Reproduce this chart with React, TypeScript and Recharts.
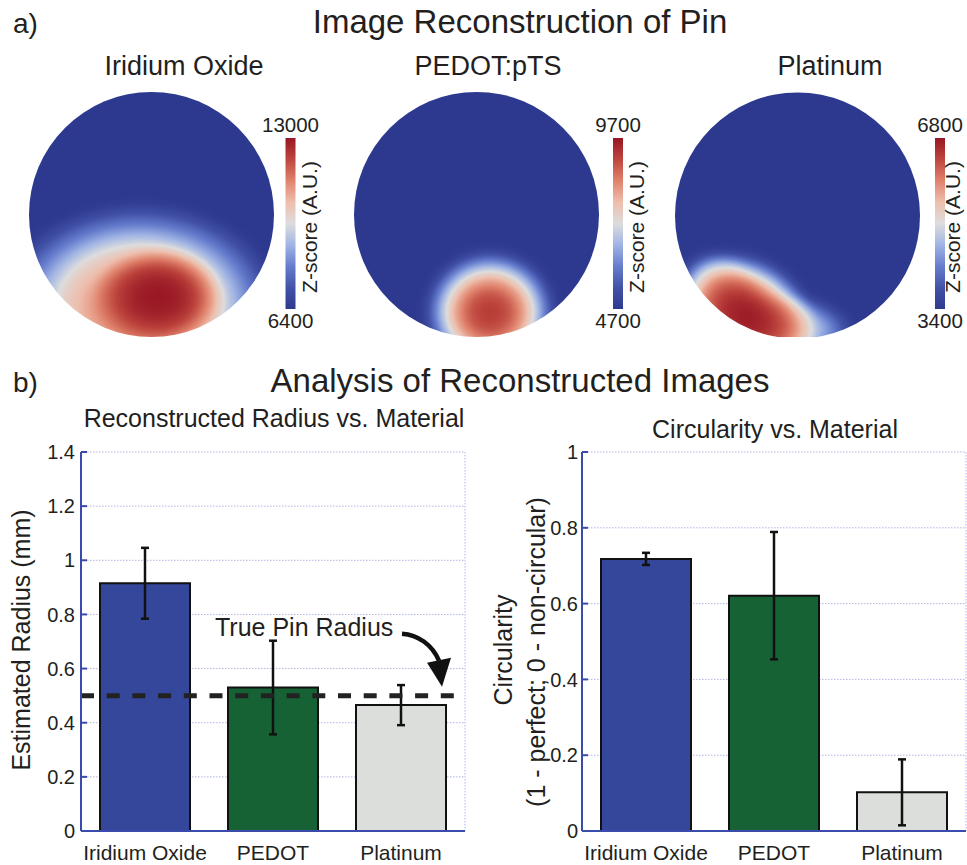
import React from "react";
import {
  BarChart, Bar, Cell, XAxis, YAxis, CartesianGrid, ErrorBar, ReferenceLine,
  ScatterChart, Scatter,
} from "recharts";

// ---- panel b data ----
const MATERIALS = ["Iridium Oxide", "PEDOT", "Platinum"];
const BAR_COLORS = ["#34479b", "#166234", "#dcdedc"];
const RADIUS = [0.915, 0.53, 0.465];
const RADIUS_ERR = [0.131, 0.173, 0.074];
const CIRC = [0.718, 0.621, 0.102];
const CIRC_ERR = [0.016, 0.168, 0.087];
const RADIUS_TICKS = [0, 0.2, 0.4, 0.6, 0.8, 1, 1.2, 1.4];
const CIRC_TICKS = [0, 0.2, 0.4, 0.6, 0.8, 1];
const BOUNDARY_TICKS = [0, 1, 2, 3];
const TRUE_RADIUS = 0.5;

// ---- panel a data ----
const PANEL_TITLES = ["Iridium Oxide", "PEDOT:pTS", "Platinum"];
const Z_MAX = [13000, 9700, 6800];
const Z_MIN = [6400, 4700, 3400];
// hot spots in disk units (u right, v up, radius 1), level = normalised z-score
const IROX_BLOBS = [
  { u: -0.1, v: -0.75, rx: 1.15, ry: 0.85, rot: 0, level: 0.78 },
  { u: 0.06, v: -0.67, rx: 0.54, ry: 0.42, rot: 0, level: 1 },
];
const PEDOT_BLOBS = [
  { u: 0.11, v: -0.8, rx: 0.55, ry: 0.52, rot: 0, level: 0.92 },
];
const PT_BLOBS = [
  { u: -0.63, v: -0.63, rx: 0.38, ry: 0.32, rot: 40, level: 0.35 },
  { u: -0.02, v: -0.92, rx: 0.5, ry: 0.28, rot: 10, level: 0.45 },
  { u: -0.42, v: -0.84, rx: 0.64, ry: 0.5, rot: 35, level: 1 },
];

// blue - white - red colormap
const CMAP_R = [46, 66, 102, 160, 221, 238, 224, 190, 152];
const CMAP_G = [58, 82, 125, 180, 221, 190, 130, 70, 22];
const CMAP_B = [143, 168, 205, 228, 221, 172, 108, 62, 36];

const INK = "#231f20";
const FRAME = "#3b4bab";
const GRID = "#b0b5e4";
const FONT = '"Liberation Sans", Arial, Helvetica, sans-serif';
const HEAT = 245;
const BG = 1.6;

const table = (arr: number[]) => arr.map((c) => (c / 255).toFixed(3)).join(" ");
const cmapColor = (i: number) => `rgb(${CMAP_R[i]},${CMAP_G[i]},${CMAP_B[i]})`;

const BlobShape = (p: any) => {
  const { cx, cy, payload } = p;
  const k = HEAT / 2;
  if (payload.bg) {
    return <rect x={cx - payload.rx * k} y={cy - payload.ry * k} width={2 * payload.rx * k} height={2 * payload.ry * k} fill="#000" />;
  }
  return (
    <ellipse cx={cx} cy={cy} rx={payload.rx * k} ry={payload.ry * k}
      fill="url(#blobGrad)" opacity={payload.level}
      transform={`rotate(${payload.rot} ${cx} ${cy})`} />
  );
};

function HeatPanel({ blobs, left }: { blobs: any[]; left: number }) {
  const data = [{ u: 0, v: 0, rx: BG, ry: BG, rot: 0, level: 0, bg: true }, ...blobs];
  return (
    <div style={{ position: "absolute", left, top: 92 }}>
      <ScatterChart width={HEAT} height={HEAT} margin={{ top: 0, right: 0, bottom: 0, left: 0 }}>
        <XAxis type="number" dataKey="u" domain={[-1, 1]} hide />
        <YAxis type="number" dataKey="v" domain={[-1, 1]} hide />
        <Scatter data={data} shape={BlobShape} className="heatfield" isAnimationActive={false} />
      </ScatterChart>
    </div>
  );
}

const PinLabel = (props: any) => {
  const { x, y } = props.viewBox;
  return (
    <g>
      <text x={x + 134} y={y - 60} fontSize={25} fill={INK}>True Pin Radius</text>
      <path d={`M${x + 321} ${y - 62} C ${x + 337} ${y - 61}, ${x + 351} ${y - 51}, ${x + 358} ${y - 35}`}
        stroke="#111" strokeWidth={4.5} fill="none" />
      <path d={`M${x + 346} ${y - 33} L${x + 370} ${y - 38} L${x + 361} ${y - 9} Z`} fill="#111" />
    </g>
  );
};

const fmt = (v: number) => String(Math.round(v * 10) / 10);

function BarPanel({ values, errs, ticks, left, width, yWidth, right, tickMargin, children }: any) {
  const data = MATERIALS.map((name, i) => ({ name, value: values[i], err: errs[i] }));
  const top = ticks[ticks.length - 1];
  return (
    <div style={{ position: "absolute", left, top: 400 }}>
      <BarChart width={width} height={465} data={data} margin={{ top: 52, right, bottom: 0, left: 0 }}>
        <CartesianGrid stroke={GRID} strokeDasharray="1.5 1.5" />
        <XAxis xAxisId={0} type="number" domain={[0, 3]} ticks={BOUNDARY_TICKS} height={0}
          tick={false} tickSize={-6} axisLine={false} tickLine={{ stroke: FRAME, strokeWidth: 2 }} />
        <XAxis xAxisId="c" dataKey="name" height={34} interval={0} tickLine={false} tickMargin={8}
          axisLine={{ stroke: FRAME, strokeWidth: 2 }} tick={{ fontSize: 21, fill: INK }} />
        <XAxis xAxisId="t" orientation="top" type="number" domain={[0, 3]} ticks={BOUNDARY_TICKS} height={0}
          tick={false} tickSize={-6} axisLine={{ stroke: FRAME, strokeWidth: 2 }} tickLine={{ stroke: FRAME, strokeWidth: 2 }} />
        <YAxis yAxisId={0} domain={[0, top]} ticks={ticks} width={yWidth} tickSize={-6} tickMargin={tickMargin}
          tickFormatter={fmt} axisLine={{ stroke: FRAME, strokeWidth: 2 }} tickLine={{ stroke: FRAME, strokeWidth: 2 }}
          tick={{ fontSize: 20, fill: INK }} />
        <YAxis yAxisId="r" orientation="right" domain={[0, top]} ticks={ticks} width={0} tick={false} tickSize={-6}
          axisLine={{ stroke: FRAME, strokeWidth: 2 }} tickLine={{ stroke: FRAME, strokeWidth: 2 }} />
        <Bar xAxisId="c" dataKey="value" barSize={90} stroke="#111" strokeWidth={2} isAnimationActive={false}>
          {data.map((d, i) => <Cell key={d.name} fill={BAR_COLORS[i]} />)}
          <ErrorBar dataKey="err" width={4} strokeWidth={2.5} stroke="#111" direction="y" />
        </Bar>
        {children}
      </BarChart>
    </div>
  );
}

export default function App() {
  const cbars = [290.5, 618, 940];
  const zLabelX = [317, 644, 960];
  const subCenters = [184, 488, 830];
  return (
    <div style={{ position: "absolute", left: 0, top: 0, width: 967, height: 865, background: "#fff", fontFamily: FONT, overflow: "hidden" }}>
      <style>{`.heatfield { filter: url(#cmap); clip-path: url(#diskClip); }`}</style>
      <svg width={0} height={0} style={{ position: "absolute" }}>
        <defs>
          <radialGradient id="blobGrad">
            <stop offset="0" stopColor="#fff" stopOpacity={1} />
            <stop offset="0.3" stopColor="#fff" stopOpacity={0.92} />
            <stop offset="0.55" stopColor="#fff" stopOpacity={0.7} />
            <stop offset="0.8" stopColor="#fff" stopOpacity={0.3} />
            <stop offset="1" stopColor="#fff" stopOpacity={0} />
          </radialGradient>
          <filter id="cmap" colorInterpolationFilters="sRGB">
            <feGaussianBlur stdDeviation={5} />
            <feComponentTransfer>
              <feFuncR type="table" tableValues={table(CMAP_R)} />
              <feFuncG type="table" tableValues={table(CMAP_G)} />
              <feFuncB type="table" tableValues={table(CMAP_B)} />
              <feFuncA type="linear" slope={0} intercept={1} />
            </feComponentTransfer>
          </filter>
          <clipPath id="diskClip" clipPathUnits="objectBoundingBox">
            <circle cx={0.5} cy={0.5} r={0.5 / BG} />
          </clipPath>
          <linearGradient id="cbarGrad" x1="0" y1="1" x2="0" y2="0">
            {CMAP_R.map((_, i) => (
              <stop key={i} offset={i / (CMAP_R.length - 1)} stopColor={cmapColor(i)} />
            ))}
          </linearGradient>
        </defs>
      </svg>

      <HeatPanel blobs={IROX_BLOBS} left={29} />
      <HeatPanel blobs={PEDOT_BLOBS} left={353.5} />
      <HeatPanel blobs={PT_BLOBS} left={675} />

      <BarPanel values={RADIUS} errs={RADIUS_ERR} ticks={RADIUS_TICKS} left={0} width={480}
        yWidth={81} right={15} tickMargin={12}>
        <ReferenceLine y={TRUE_RADIUS} stroke="#222" strokeWidth={5} strokeDasharray="13 12.7"
          label={<PinLabel />} />
      </BarPanel>
      <BarPanel values={CIRC} errs={CIRC_ERR} ticks={CIRC_TICKS} left={480} width={487}
        yWidth={102} right={1} tickMargin={10} />

      <svg width={967} height={865} style={{ position: "absolute", left: 0, top: 0, pointerEvents: "none" }}
        fontFamily={FONT} fill={INK}>
        <text x={13} y={33} fontSize={28}>a)</text>
        <text x={520} y={33} fontSize={33} textAnchor="middle">Image Reconstruction of Pin</text>
        {PANEL_TITLES.map((t, i) => (
          <text key={t} x={subCenters[i]} y={75} fontSize={27} textAnchor="middle">{t}</text>
        ))}
        {cbars.map((cx, i) => (
          <g key={cx}>
            <rect x={cx - 5} y={138} width={10} height={171} fill="url(#cbarGrad)" />
            <text x={cx} y={132} fontSize={20.5} textAnchor="middle">{Z_MAX[i]}</text>
            <text x={cx} y={328} fontSize={20.5} textAnchor="middle">{Z_MIN[i]}</text>
            <text transform={`translate(${zLabelX[i]},227) rotate(-90)`} fontSize={21} textAnchor="middle">Z-score (A.U.)</text>
          </g>
        ))}
        <text x={13} y={392} fontSize={28}>b)</text>
        <text x={520} y={392} fontSize={33} textAnchor="middle">Analysis of Reconstructed Images</text>
        <text x={274} y={427} fontSize={25} textAnchor="middle">Reconstructed Radius vs. Material</text>
        <text x={775} y={438} fontSize={25} textAnchor="middle">Circularity vs. Material</text>
        <text transform="translate(30,640) rotate(-90)" fontSize={25} textAnchor="middle">Estimated Radius (mm)</text>
        <text transform="translate(512,650) rotate(-90)" fontSize={25} textAnchor="middle">Circularity</text>
        <text transform="translate(545,652) rotate(-90)" fontSize={25} textAnchor="middle">(1 - perfect; 0 - non-circular)</text>
      </svg>
    </div>
  );
}
